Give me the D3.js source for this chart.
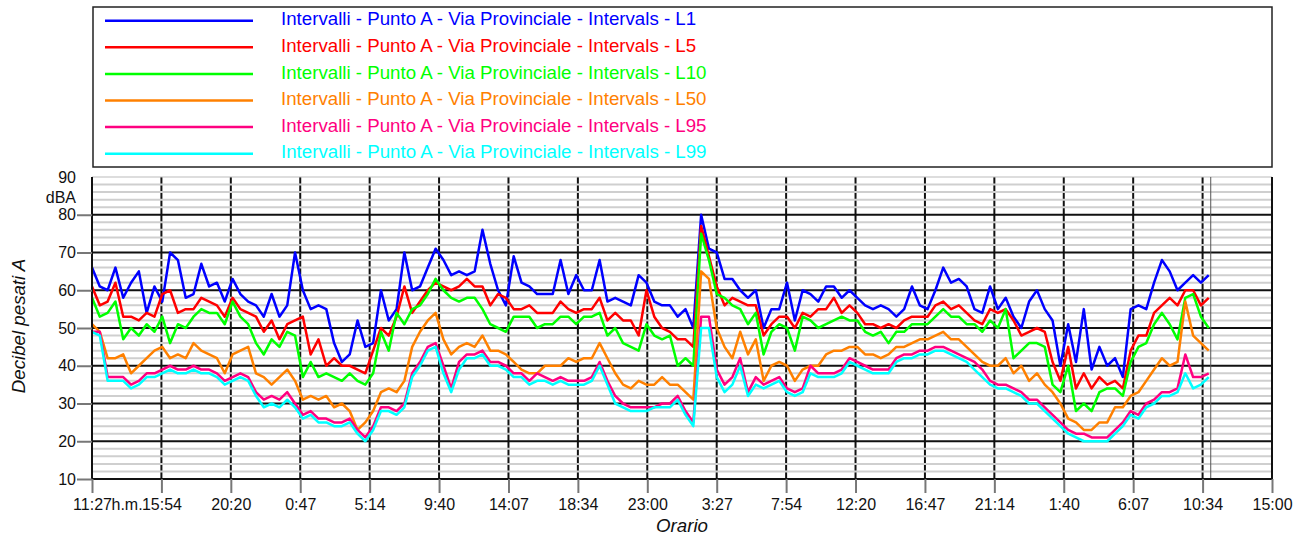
<!DOCTYPE html>
<html>
<head>
<meta charset="utf-8">
<script src="https://cdn.jsdelivr.net/npm/d3@7/dist/d3.min.js"></script>
<style>
  body { margin: 0; background: #fff; }
  svg { display: block; font-family: Arial, "Liberation Sans", sans-serif; }
</style>
</head>
<body>
<div id="graph"></div>
<script>
// Time axis: 11:27 (day 1) to 15:00 (day 4), samples every 30 minutes
const spanMinutes = 4533;
const stepMinutes = 30;
const tickLabels = ["11:27", "15:54", "20:20", "0:47", "5:14", "9:40", "14:07", "18:34", "23:00",
    "3:27", "7:54", "12:20", "16:47", "21:14", "1:40", "6:07", "10:34", "15:00"];
const yTicks = [10, 20, 30, 40, 50, 60, 70, 80];

const seriesNames = ["L1", "L5", "L10", "L50", "L95", "L99"];
const seriesColors = ["#0000ff", "#ff0000", "#00ff00", "#ff8000", "#ff0080", "#00ffff"];

const L1 = [66,61,60,66,58,62,65,54,61,57,70,68,58,59,67,61,62,57,63,59,57,56,53,59,53,56,70,60,55,56,55,46,41,43,52,45,46,
    60,52,55,70,60,61,66,71,68,64,65,64,65,76,67,60,56,69,62,61,59,59,59,68,59,64,60,60,68,57,58,57,56,64,62,57,
    56,56,53,55,50,80,71,70,63,63,60,58,60,50,55,55,62,52,60,59,57,61,61,58,60,58,56,55,56,55,53,55,61,56,55,60,
    66,62,63,61,55,54,61,55,58,53,50,57,60,55,52,40,51,41,55,39,45,40,42,37,55,56,55,62,68,65,60,62,64,62,64];
const L5 = [61,56,57,62,53,53,52,54,53,59,60,54,55,55,58,57,56,53,58,55,54,53,49,52,47,51,52,53,43,47,40,42,40,40,39,38,44,
    50,48,53,61,54,57,60,62,61,60,61,63,61,61,56,59,58,55,55,56,54,54,54,57,55,54,55,55,58,52,54,52,52,48,60,53,
    50,49,47,47,45,77,69,61,56,58,57,56,56,48,51,53,53,50,54,53,55,55,58,54,56,54,51,51,50,51,50,52,53,53,53,56,
    57,55,56,54,52,51,55,54,55,52,48,49,50,49,41,36,45,34,38,34,37,35,36,34,44,48,48,54,56,58,56,60,60,56,58];
const L10 = [58,53,54,57,47,50,48,51,49,53,46,51,50,53,55,54,54,51,57,53,51,46,43,47,45,49,48,37,41,37,38,37,36,38,36,35,38,
    49,44,54,51,55,56,59,63,60,58,57,58,58,55,51,50,49,53,53,53,50,51,51,53,53,51,53,53,54,48,50,46,45,44,51,48,
    47,48,40,42,40,75,68,59,58,56,55,51,54,43,49,51,50,44,53,52,50,51,52,53,52,52,49,48,49,46,49,49,51,51,51,53,
    55,53,53,51,51,49,52,50,55,42,44,46,46,45,35,33,40,28,30,28,33,34,34,32,41,45,46,51,54,51,47,58,59,53,50];
const L50 = [51,49,42,42,43,38,40,42,44,45,42,43,42,46,44,43,42,38,43,44,45,38,37,35,37,39,36,31,32,31,32,29,30,28,23,25,28,
    33,34,33,36,45,49,52,54,47,43,45,46,45,48,44,44,43,41,39,38,38,40,40,40,42,41,42,42,46,42,38,35,34,36,35,35,
    37,35,35,33,31,65,63,50,45,42,49,43,47,36,40,41,40,36,39,40,40,43,44,44,45,45,43,43,42,43,45,45,46,47,47,48,
    49,47,47,45,43,41,40,40,42,38,40,36,38,35,33,30,26,25,23,23,25,25,29,29,32,33,36,39,42,40,41,57,48,46,44];
const L95 = [49,49,37,37,37,35,36,38,38,39,40,39,39,40,39,39,38,36,37,38,37,33,31,32,31,33,30,27,28,26,26,25,25,26,23,21,24,
    29,29,28,30,38,41,45,46,40,34,41,43,43,44,41,41,40,38,38,36,38,37,36,37,36,36,36,37,41,36,32,30,29,29,29,29,
    30,30,32,28,25,53,53,39,35,37,42,33,37,35,36,37,34,33,34,40,38,38,38,39,42,41,40,39,39,39,42,43,43,44,44,45,
    45,44,43,42,41,39,36,35,35,34,33,31,31,29,27,25,23,22,22,21,21,21,23,25,28,27,30,31,33,33,34,43,37,37,38];
const L99 = [49,48,36,36,36,34,35,37,37,38,39,38,38,39,38,38,37,35,36,37,36,32,29,30,29,31,29,26,27,25,25,24,24,25,22,20,23,
    28,28,27,29,37,40,44,45,38,33,39,42,42,43,40,40,39,37,37,35,36,36,35,36,35,35,35,36,40,35,30,29,28,28,28,29,
    29,29,31,27,24,50,50,37,33,35,40,32,35,34,35,36,33,32,33,38,37,37,37,38,41,40,39,38,38,38,41,42,42,43,43,44,
    44,43,42,41,39,37,35,34,34,33,32,30,30,28,26,24,22,21,20,20,20,20,22,24,27,26,29,30,32,32,33,38,34,35,37];
const seriesValues = [L1, L5, L10, L50, L95, L99];

const W = 1298, H = 535;
const margin = { top: 177, right: 26, bottom: 56, left: 92 };
const width = W - margin.left - margin.right;
const height = H - margin.top - margin.bottom;

const svg = d3.select("#graph").append("svg")
    .attr("width", W)
    .attr("height", H);

// Legend box
const legend = svg.append("g");
legend.append("rect")
    .attr("x", 93).attr("y", 7)
    .attr("width", 1179).attr("height", 160)
    .attr("fill", "#fff")
    .attr("stroke", "#222")
    .attr("stroke-width", 1.5);
seriesNames.forEach((name, i) => {
    const ly = 20.7 + i * 26.6;
    legend.append("line")
        .attr("x1", 105).attr("x2", 253)
        .attr("y1", ly).attr("y2", ly)
        .attr("stroke", seriesColors[i])
        .attr("stroke-width", 2.5);
    legend.append("text")
        .attr("x", 281).attr("y", ly + 4.6)
        .attr("fill", seriesColors[i])
        .style("font-size", "18.7px")
        .text("Intervalli - Punto A - Via Provinciale - Intervals - " + name);
});

const g = svg.append("g")
    .attr("transform", `translate(${margin.left}, ${margin.top})`);

const x = d3.scaleLinear().domain([0, spanMinutes]).range([0, width]);
const y = d3.scaleLinear().domain([10, 90]).range([height, 0]);
const xTickValues = tickLabels.map((d, i) => i * spanMinutes / (tickLabels.length - 1));

// vertical grid
g.append("g")
    .selectAll("line")
    .data(xTickValues.slice(1, -1))
    .join("line")
    .attr("x1", d => x(d)).attr("x2", d => x(d))
    .attr("y1", 0).attr("y2", height)
    .attr("stroke", "#111")
    .attr("stroke-width", 2);

// minor horizontal grid every 2 dB
g.append("g")
    .selectAll("line")
    .data(d3.range(12, 91, 2).filter(v => v % 10 !== 0 || v === 90))
    .join("line")
    .attr("x1", 0).attr("x2", width)
    .attr("y1", d => y(d)).attr("y2", d => y(d))
    .attr("stroke", d => d === 90 ? "#bbb" : "#cfcfcf")
    .attr("stroke-width", d => d === 90 ? 1 : 2);

// major horizontal grid
g.append("g")
    .selectAll("line")
    .data(yTicks.slice(1))
    .join("line")
    .attr("x1", 0).attr("x2", width)
    .attr("y1", d => y(d)).attr("y2", d => y(d))
    .attr("stroke", "#111")
    .attr("stroke-width", 2);

// end of data marker
const lastT = (L1.length - 1) * stepMinutes;
g.append("line")
    .attr("x1", x(lastT) + 2).attr("x2", x(lastT) + 2)
    .attr("y1", 0).attr("y2", height)
    .attr("stroke", "#555")
    .attr("stroke-width", 1);

// series
const line = d3.line()
    .x((d, i) => x(i * stepMinutes))
    .y(d => y(d));
seriesValues.forEach((vals, i) => {
    g.append("path")
        .datum(vals)
        .attr("fill", "none")
        .attr("stroke", seriesColors[i])
        .attr("stroke-width", 2.5)
        .attr("stroke-linejoin", "round")
        .attr("d", line);
});

// plot borders
g.append("line").attr("x1", 0).attr("x2", 0).attr("y1", 0).attr("y2", height)
    .attr("stroke", "#111").attr("stroke-width", 2);
g.append("line").attr("x1", width).attr("x2", width).attr("y1", 0).attr("y2", height)
    .attr("stroke", "#111").attr("stroke-width", 2);
g.append("line").attr("x1", 0).attr("x2", width).attr("y1", height).attr("y2", height)
    .attr("stroke", "#111").attr("stroke-width", 2);

// axes
const xAxis = d3.axisBottom(x)
    .tickValues(xTickValues)
    .tickFormat((d, i) => tickLabels[i])
    .tickSize(14);
const xg = g.append("g")
    .attr("transform", `translate(0, ${height})`)
    .call(xAxis);
xg.select(".domain").remove();
xg.selectAll(".tick line").attr("stroke", "#777").attr("stroke-width", 2);
xg.selectAll(".tick text")
    .attr("y", 31).attr("dy", 0)
    .attr("fill", "#111")
    .style("font-size", "16px");

g.append("text")
    .attr("x", x(0) + 19.5).attr("y", height + 31)
    .attr("fill", "#111")
    .style("font-size", "16px")
    .text("h.m.");

const yAxis = d3.axisLeft(y)
    .tickValues(yTicks)
    .tickSize(15)
    .tickPadding(1);
const yg = g.append("g").call(yAxis);
yg.select(".domain").remove();
yg.selectAll(".tick line").attr("stroke", "#777").attr("stroke-width", 2);
yg.selectAll(".tick text")
    .attr("fill", "#111")
    .style("font-size", "16px");

g.append("text")
    .attr("x", -16).attr("y", y(90))
    .attr("dy", "0.35em")
    .attr("text-anchor", "end")
    .attr("fill", "#111")
    .style("font-size", "16px")
    .text("90");
g.append("text")
    .attr("x", -16).attr("y", y(90) + 20)
    .attr("dy", "0.35em")
    .attr("text-anchor", "end")
    .attr("fill", "#111")
    .style("font-size", "16px")
    .text("dBA");

// axis titles
svg.append("text")
    .attr("x", 682).attr("y", 532)
    .attr("text-anchor", "middle")
    .style("font-size", "18.7px")
    .style("font-style", "italic")
    .attr("fill", "#111")
    .text("Orario");
svg.append("text")
    .attr("transform", "translate(25, 326) rotate(-90)")
    .attr("text-anchor", "middle")
    .style("font-size", "18.7px")
    .style("font-style", "italic")
    .attr("fill", "#111")
    .text("Decibel pesati A");
</script>
</body>
</html>
